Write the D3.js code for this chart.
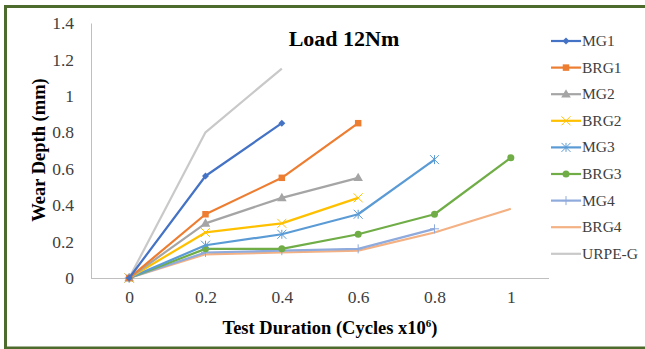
<!DOCTYPE html>
<html>
<head>
<meta charset="utf-8">
<script src="https://cdn.jsdelivr.net/npm/d3@7"></script>
<style>
  html, body { margin: 0; padding: 0; background: #fff; }
  svg { display: block; }
</style>
</head>
<body>
<div id="chart"></div>
<script>
// Wear depth under 12Nm load
var durations = ['0', '0.2', '0.4', '0.6', '0.8', '1'];
var seriesNames = ['MG1', 'BRG1', 'MG2', 'BRG2', 'MG3', 'BRG3', 'MG4', 'BRG4', 'URPE-G'];
var mg1 = [0, 0.56, 0.85];
var brg1 = [0, 0.35, 0.55, 0.85];
var mg2 = [0, 0.30, 0.44, 0.55];
var brg2 = [0, 0.25, 0.30, 0.44];
var mg3 = [0, 0.18, 0.24, 0.35, 0.65];
var brg3 = [0, 0.16, 0.16, 0.24, 0.35, 0.66];
var mg4 = [0, 0.14, 0.15, 0.16, 0.27];
var brg4 = [0, 0.13, 0.14, 0.15, 0.25, 0.38];
var urpeg = [0, 0.80, 1.15];
var yTicks = [0, 0.2, 0.4, 0.6, 0.8, 1, 1.2, 1.4];

var styles = {
  'MG1':    { color: '#4472c4', marker: 'diamond' },
  'BRG1':   { color: '#ed7d31', marker: 'square' },
  'MG2':    { color: '#a5a5a5', marker: 'triangle' },
  'BRG2':   { color: '#ffc000', marker: 'x' },
  'MG3':    { color: '#5b9bd5', marker: 'star' },
  'BRG3':   { color: '#70ad47', marker: 'circle' },
  'MG4':    { color: '#8faadc', marker: 'plus' },
  'BRG4':   { color: '#f4b183', marker: 'none' },
  'URPE-G': { color: '#c9c9c9', marker: 'none' }
};
var values = [mg1, brg1, mg2, brg2, mg3, brg3, mg4, brg4, urpeg];

var W = 645, H = 349;
var plot = { left: 91, right: 549, top: 23, bottom: 278 };
var serif = '"Liberation Serif", "Times New Roman", serif';

var svg = d3.select('#chart').append('svg')
  .attr('width', W).attr('height', H);

// green frame (cropped on the right)
svg.append('rect')
  .attr('x', 5.5).attr('y', 6.5)
  .attr('width', W + 10).attr('height', 341.5)
  .attr('fill', 'none')
  .attr('stroke', '#4e6b2e')
  .attr('stroke-width', 3);

var x = d3.scalePoint()
  .domain(durations)
  .range([plot.left, plot.right])
  .padding(0.5);

var y = d3.scaleLinear()
  .domain([0, 1.4])
  .range([plot.bottom, plot.top]);

// axes
var yAxis = svg.append('g')
  .attr('transform', 'translate(' + plot.left + ',0)')
  .call(d3.axisLeft(y).tickValues(yTicks).tickSize(0).tickPadding(17)
    .tickFormat(function(d) { return d3.format('~g')(d); }));
yAxis.attr('font-family', serif).attr('font-size', 17.5);
yAxis.select('.domain').attr('stroke', '#bfbfbf');
yAxis.selectAll('text').attr('fill', '#404040');

var xAxis = svg.append('g')
  .attr('transform', 'translate(0,' + plot.bottom + ')')
  .call(d3.axisBottom(x).tickSize(0).tickPadding(13));
xAxis.attr('font-family', serif).attr('font-size', 17.5);
xAxis.select('.domain').attr('stroke', '#bfbfbf').attr('d', 'M' + plot.left + ',0.5H' + plot.right);
xAxis.selectAll('text').attr('fill', '#404040');

// titles
svg.append('text')
  .attr('x', 344).attr('y', 46)
  .attr('text-anchor', 'middle')
  .style('font-family', serif)
  .style('font-weight', 'bold')
  .style('font-size', '22px')
  .text('Load 12Nm');

svg.append('text')
  .attr('transform', 'translate(45,150) rotate(-90)')
  .attr('text-anchor', 'middle')
  .style('font-family', serif)
  .style('font-weight', 'bold')
  .style('font-size', '18.5px')
  .text('Wear Depth (mm)');

var xt = svg.append('text')
  .attr('x', 330).attr('y', 334)
  .attr('text-anchor', 'middle')
  .style('font-family', serif)
  .style('font-weight', 'bold')
  .style('font-size', '18.5px');
xt.append('tspan').text('Test Duration (Cycles x10');
xt.append('tspan').attr('dy', -7).style('font-size', '11px').text('6');
xt.append('tspan').attr('dy', 7).text(')');

// marker drawing
function drawMarker(g, type, color, cx, cy) {
  if (type === 'diamond') {
    g.append('path').attr('d', d3.symbol(d3.symbolSquare, 24)())
      .attr('transform', 'translate(' + cx + ',' + cy + ') rotate(45)').attr('fill', color);
  } else if (type === 'square') {
    g.append('path').attr('d', d3.symbol(d3.symbolSquare, 42)())
      .attr('transform', 'translate(' + cx + ',' + cy + ')').attr('fill', color);
  } else if (type === 'triangle') {
    g.append('path').attr('d', d3.symbol(d3.symbolTriangle, 40)())
      .attr('transform', 'translate(' + cx + ',' + (cy + 0.5) + ')').attr('fill', color);
  } else if (type === 'circle') {
    g.append('circle').attr('cx', cx).attr('cy', cy).attr('r', 3.5).attr('fill', color);
  } else if (type === 'x' || type === 'star' || type === 'plus') {
    var s = 4.5, p = '';
    if (type !== 'plus') p += 'M' + (cx - s) + ',' + (cy - s) + 'L' + (cx + s) + ',' + (cy + s) +
      'M' + (cx - s) + ',' + (cy + s) + 'L' + (cx + s) + ',' + (cy - s);
    if (type !== 'x') p += 'M' + cx + ',' + (cy - s) + 'L' + cx + ',' + (cy + s);
    if (type === 'plus') p += 'M' + (cx - s) + ',' + cy + 'L' + (cx + s) + ',' + cy;
    g.append('path').attr('d', p).attr('stroke', color).attr('stroke-width', 1).attr('fill', 'none');
  }
}

var line = d3.line()
  .x(function(d, i) { return x(durations[i]); })
  .y(function(d) { return y(d); });

// draw in reverse so MG1 ends up on top
for (var k = seriesNames.length - 1; k >= 0; k--) {
  var name = seriesNames[k], st = styles[name], vals = values[k];
  var g = svg.append('g');
  g.append('path')
    .datum(vals)
    .attr('d', line)
    .attr('fill', 'none')
    .attr('stroke', st.color)
    .attr('stroke-width', 2.2)
    .attr('stroke-linejoin', 'round');
  vals.forEach(function(v, i) {
    drawMarker(g, st.marker, st.color, x(durations[i]), y(v));
  });
}

// legend
var legend = svg.append('g');
seriesNames.forEach(function(name, i) {
  var st = styles[name];
  var ly = 41 + i * 26.6;
  var row = legend.append('g');
  row.append('line')
    .attr('x1', 551).attr('x2', 581)
    .attr('y1', ly).attr('y2', ly)
    .attr('stroke', st.color).attr('stroke-width', 2.2);
  drawMarker(row, st.marker, st.color, 566, ly);
  row.append('text')
    .attr('x', 582).attr('y', ly + 5)
    .attr('fill', '#404040')
    .style('font-family', serif)
    .style('font-size', '15.5px')
    .text(name);
});
</script>
</body>
</html>
